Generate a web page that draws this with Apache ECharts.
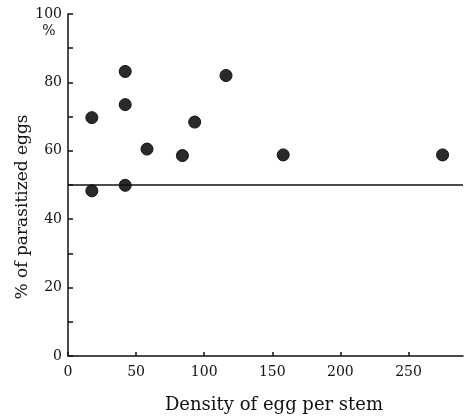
<!DOCTYPE html>
<html>
<head>
<meta charset="utf-8">
<script src="https://cdn.jsdelivr.net/npm/echarts@6/dist/echarts.min.js"></script>
<style>html,body{margin:0;padding:0;background:#fff;}#c{width:468px;height:416px;}</style>
</head>
<body>
<div id="c"></div>
<script>
const density = [17.5, 42, 42, 58, 84, 93, 116, 158, 17.5, 42, 275];
const parasitized = [69.7, 83.2, 73.5, 60.5, 58.6, 68.4, 82.0, 58.8, 48.3, 49.9, 58.8];
const xTicks = [0, 50, 100, 150, 200, 250];
const yTicks = [0, 20, 40, 60, 80, 100];
const referenceLevel = 50;
const xName = 'Density of egg per stem';
const yName = '% of parasitized eggs';

const serif = '"DejaVu Serif", "Liberation Serif", serif';
const chart = echarts.init(document.getElementById('c'), null, {renderer: 'canvas'});
chart.setOption({
  animation: false,
  backgroundColor: '#fff',
  grid: {left: 68, right: 5, top: 14, bottom: 60, containLabel: false},
  xAxis: {
    type: 'value', min: 0, max: 290, interval: 50,
    axisLine: {show: true, lineStyle: {color: '#111', width: 1.5}},
    axisTick: {show: true, inside: true, length: 4, customValues: xTicks, lineStyle: {color: '#111', width: 1.5}},
    axisLabel: {customValues: xTicks, color: '#111', fontFamily: serif, fontSize: 14, margin: 9},
    splitLine: {show: false}
  },
  yAxis: {
    type: 'value', min: 0, max: 100, interval: 10,
    axisLine: {show: true, lineStyle: {color: '#111', width: 1.5}},
    axisTick: {show: true, inside: true, length: 5, lineStyle: {color: '#111', width: 1.5}},
    axisLabel: {color: '#111', fontFamily: serif, fontSize: 14, margin: 6,
      formatter: v => (yTicks.indexOf(v) >= 0 ? String(v) : '')},
    splitLine: {show: false}
  },
  graphic: [
    {type: 'text', x: 49, y: 31, style: {text: '%', fontFamily: serif, fontSize: 14, fill: '#111', align: 'center', verticalAlign: 'middle'}},
    {type: 'text', x: 274, y: 405, style: {text: xName, fontFamily: serif, fontSize: 18, fill: '#111', align: 'center', verticalAlign: 'middle'}},
    {type: 'text', x: 23, y: 207, rotation: Math.PI / 2, style: {text: yName, fontFamily: serif, fontSize: 17, fill: '#111', align: 'center', verticalAlign: 'middle'}}
  ],
  series: [{
    type: 'scatter',
    data: density.map((d, i) => [d, parasitized[i]]),
    symbol: 'circle', symbolSize: 12,
    itemStyle: {color: '#2a2a2a', borderColor: '#111', borderWidth: 1, opacity: 1},
    markLine: {
      silent: true, symbol: 'none', label: {show: false},
      lineStyle: {color: '#111', width: 1.5, type: 'solid'},
      data: [{yAxis: referenceLevel}]
    }
  }]
});
</script>
</body>
</html>
